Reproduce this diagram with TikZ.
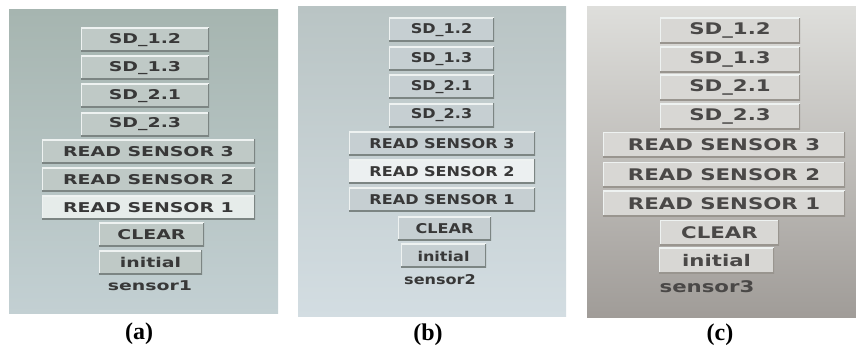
\documentclass[tikz,border=0pt]{standalone}
\usepackage{fontspec}
\setmainfont{Liberation Serif}
\newfontfamily\guiA[FakeStretch=1.4]{DejaVu Sans Bold}
\newfontfamily\guiB[FakeStretch=1.19]{DejaVu Sans Bold}
\newfontfamily\guiC[FakeStretch=1.33]{DejaVu Sans Bold}
\definecolor{bgAtop}{HTML}{A6B5B0}
\definecolor{bgAbot}{HTML}{C3D0D3}
\definecolor{bgBtop}{HTML}{B9C4C4}
\definecolor{bgBbot}{HTML}{D3DDE2}
\definecolor{bgCtop}{HTML}{DEDEDB}
\definecolor{bgCmid}{HTML}{CDCCC9}
\definecolor{bgCbot}{HTML}{A09C98}
\definecolor{fillA}{HTML}{BFC9C6}
\definecolor{liteA}{HTML}{E6ECEA}
\definecolor{fillB}{HTML}{C6CFD2}
\definecolor{liteB}{HTML}{ECF0F1}
\definecolor{fillC}{HTML}{D8D7D4}
\definecolor{btndark}{HTML}{7C8583}
\definecolor{btndarkC}{HTML}{99958F}
\definecolor{btnlite}{HTML}{EEF2F1}
\definecolor{txt}{HTML}{383838}
\definecolor{txtC}{HTML}{4A4847}
\tikzset{
  btn/.style 2 args={rectangle, inner sep=0pt, fill=#1, text=txt,
    path picture={
      \draw[line width=2.4pt, btnlite] (path picture bounding box.south west) -- (path picture bounding box.north west) -- (path picture bounding box.north east);
      \draw[line width=3pt, #2] (path picture bounding box.south west) -- (path picture bounding box.south east) -- (path picture bounding box.north east);
    }},
  pa/.style={btn={#1}{btndark}, font=\guiA\fontsize{13.5}{13.5}\selectfont},
  pb/.style={btn={#1}{btndark}, font=\guiB\fontsize{13.5}{13.5}\selectfont},
  pc/.style={btn={fillC}{btndarkC}, text=txtC, font=\guiC\fontsize{16}{16}\selectfont},
  caption/.style={text=txt},
  sublabel/.style={font=\bfseries\fontsize{24}{24}\selectfont, text=black},
}
\begin{document}
\begin{tikzpicture}[x=1pt,y=-1pt]
\useasboundingbox (0,0) rectangle (856,352);
\fill[white] (0,0) rectangle (856,352);
% panel backgrounds
\shade[top color=bgAtop, bottom color=bgAbot] (9,10) rectangle (278,314);
\shade[top color=bgBtop, bottom color=bgBbot] (298,7) rectangle (566,317);
\shade[top color=bgCtop, middle color=bgCmid, bottom color=bgCbot] (587,7) rectangle (856,318);

% panel (a)
\begin{scope}[every node/.append style={minimum height=24pt}]
\node[pa=fillA, minimum width=128pt] (a1) at (145,40) {SD\_1.2};
\node[pa=fillA, minimum width=128pt] (a2) at (145,68) {SD\_1.3};
\node[pa=fillA, minimum width=128pt] (a3) at (145,96) {SD\_2.1};
\node[pa=fillA, minimum width=128pt] (a4) at (145,124.5) {SD\_2.3};
\node[pa=fillA, minimum width=213pt] (a5) at (148.5,151.5) {READ SENSOR 3};
\node[pa=fillA, minimum width=213pt] (a6) at (148.5,180) {READ SENSOR 2};
\node[pa=liteA, minimum width=213pt] (a7) at (148.5,207.5) {READ SENSOR 1};
\node[pa=fillA, minimum width=105pt] (a8) at (151.5,235) {CLEAR};
\node[pa=fillA, minimum width=103pt] (a9) at (150.5,262.5) {initial};
\end{scope}
\node[caption, font=\guiA\fontsize{13.5}{13.5}\selectfont] (a10) at (150,286) {sensor1};
\node[sublabel] (la) at (139,333.5) {(a)};

% panel (b)
\begin{scope}[every node/.append style={minimum height=24pt}]
\node[pb=fillB, minimum width=105pt] (b1) at (441.5,30) {SD\_1.2};
\node[pb=fillB, minimum width=105pt] (b2) at (441.5,59) {SD\_1.3};
\node[pb=fillB, minimum width=105pt] (b3) at (441.5,87) {SD\_2.1};
\node[pb=fillB, minimum width=105pt] (b4) at (441.5,115.5) {SD\_2.3};
\node[pb=fillB, minimum width=186pt] (b5) at (442,144) {READ SENSOR 3};
\node[pb=liteB, minimum width=186pt] (b6) at (442,171.5) {READ SENSOR 2};
\node[pb=fillB, minimum width=186pt] (b7) at (442,200) {READ SENSOR 1};
\node[pb=fillB, minimum width=93pt] (b8) at (444.5,229) {CLEAR};
\node[pb=fillB, minimum width=85pt] (b9) at (443.5,256) {initial};
\end{scope}
\node[caption, font=\guiB\fontsize{13.5}{13.5}\selectfont] (b10) at (440,280) {sensor2};
\node[sublabel] (lb) at (428,335) {(b)};

% panel (c)
\begin{scope}[every node/.append style={minimum height=25.5pt}]
\node[pc, minimum width=140pt] (c1) at (730,30.5) {SD\_1.2};
\node[pc, minimum width=140pt] (c2) at (730,59.5) {SD\_1.3};
\node[pc, minimum width=140pt] (c3) at (730,87.5) {SD\_2.1};
\node[pc, minimum width=140pt] (c4) at (730,116.5) {SD\_2.3};
\node[pc, minimum width=242pt] (c5) at (724,145) {READ SENSOR 3};
\node[pc, minimum width=242pt] (c6) at (724,175) {READ SENSOR 2};
\node[pc, minimum width=242pt] (c7) at (724,203.5) {READ SENSOR 1};
\node[pc, minimum width=119pt] (c8) at (719.5,233) {CLEAR};
\node[pc, minimum width=115pt] (c9) at (716.5,260.5) {initial};
\end{scope}
\node[caption, text=txtC, font=\guiC\fontsize{16}{16}\selectfont] (c10) at (707,287) {sensor3};
\node[sublabel] (lc) at (720,335) {(c)};
\end{tikzpicture}
\end{document}
